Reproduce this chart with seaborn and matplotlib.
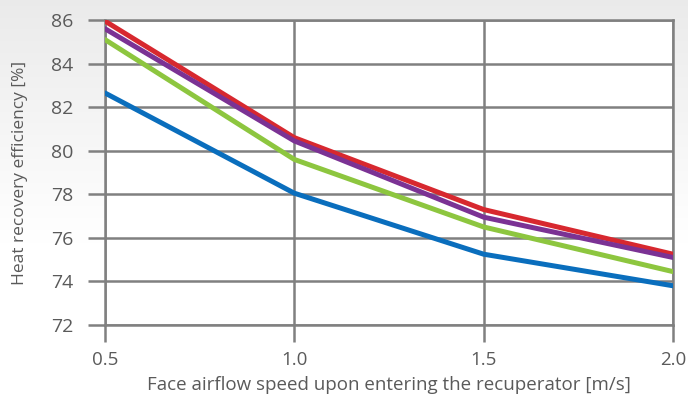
import numpy as np
import pandas as pd
import matplotlib
matplotlib.use("Agg")
import matplotlib.pyplot as plt
import seaborn as sns

predkosc = [0.5, 1.0, 1.5, 2.0]
seria_czerwona = [85.95, 80.6, 77.3, 75.25]
seria_fioletowa = [85.6, 80.45, 76.95, 75.1]
seria_zielona = [85.1, 79.6, 76.5, 74.45]
seria_niebieska = [82.65, 78.05, 75.25, 73.8]

nazwy = ["czerwona", "fioletowa", "zielona", "niebieska"]
kolory = ["#d7282f", "#7b3294", "#8dc63f", "#0a6ebd"]
y_ticks = [72, 74, 76, 78, 80, 82, 84, 86]
x_ticks = [0.5, 1.0, 1.5, 2.0]

df = pd.DataFrame({
    "x": predkosc * 4,
    "y": seria_czerwona + seria_fioletowa + seria_zielona + seria_niebieska,
    "seria": [n for n in nazwy for _ in predkosc],
})

sns.set_style("white")
plt.rcParams['font.family'] = ['Open Sans', 'DejaVu Sans']

szary = "#808080"
tekst = "#5a5a5a"

fig = plt.figure(figsize=(6.88, 4.03), dpi=100)
fig.patch.set_facecolor("white")

# tlo - jasnoszary gradient u gory
bg = fig.add_axes([0, 0, 1, 1], zorder=-10)
img = np.linspace(0, 1, 200).reshape(-1, 1)
img = 0.92 + 0.08 * np.clip(img / 0.6, 0, 1)
bg.imshow(np.dstack([img, img, img]), aspect="auto", extent=[0, 1, 0, 1], origin="upper")
bg.axis("off")

ax = fig.add_axes([105 / 688, 1 - 325 / 403, (673 - 105) / 688, (325 - 20) / 403])
ax.set_facecolor("white")

sns.lineplot(data=df, x="x", y="y", hue="seria", palette=kolory, hue_order=nazwy,
             linewidth=3.6, legend=False, ax=ax, zorder=3)

ax.set_xlim(0.5, 2.0)
ax.set_ylim(72, 86)
ax.set_xticks(x_ticks)
ax.set_xticklabels(["0.5", "1.0", "1.5", "2.0"])
ax.set_yticks(y_ticks)

ax.grid(True, color=szary, linewidth=1.8, zorder=1)
for s in ax.spines.values():
    s.set_visible(True)
    s.set_color(szary)
    s.set_linewidth(1.8)

ax.tick_params(axis="y", length=12, width=1.8, color=szary, labelsize=14, labelcolor=tekst, pad=11)
ax.tick_params(axis="x", length=12, width=1.8, color=szary, labelsize=13.5, labelcolor=tekst, pad=7)
ax.tick_params(left=True, bottom=True)

ax.set_xlabel("Face airflow speed upon entering the recuperator [m/s]", fontsize=13.5, color=tekst, labelpad=5)
ax.set_ylabel("Heat recovery efficiency [%]", fontsize=12.5, color=tekst, labelpad=16)

plt.savefig("out.png", dpi=100)
plt.close()
